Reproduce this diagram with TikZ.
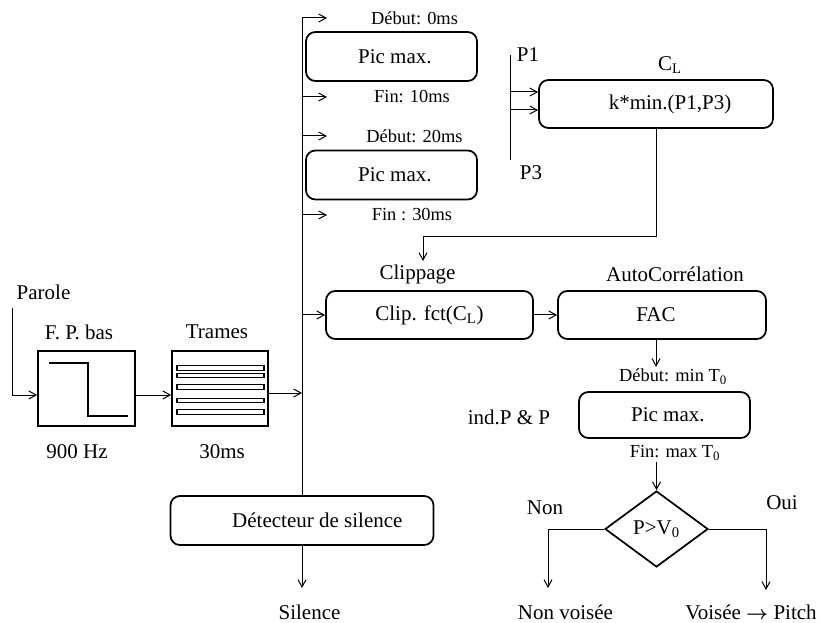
\documentclass[tikz,border=0pt]{standalone}
\usepackage{amsmath}
\usepackage{fontspec}
\setmainfont{Liberation Serif}
\usetikzlibrary{arrows.meta,shapes.geometric}

\tikzset{every picture/.style={line width=0.75pt}}
\tikzset{
  fl/.style={-{Straight Barb[length=5.5pt,width=6pt]}},
  bloc/.style={draw,rounded corners=7pt,line width=1.3pt,inner sep=0pt,
    font=\fontsize{15.75}{18}\selectfont},
  carre/.style={draw,line width=1.3pt,inner sep=0pt},
  gros/.style={inner sep=1pt,font=\fontsize{15.75}{18}\selectfont},
  petit/.style={inner sep=1pt,font=\fontsize{13.8}{16}\selectfont},
}

\begin{document}
\begin{tikzpicture}[x=0.75pt,y=0.75pt,yscale=-1,xscale=1]
\useasboundingbox (0,0) rectangle (820,623);

% Blocs
\node[carre,minimum width=72.75pt,minimum height=56.25pt] (fp) at (86.5,388.5) {};
\node[carre,minimum width=72pt,minimum height=56.25pt] (trames) at (220,388.5) {};
\node[bloc,minimum width=128.25pt,minimum height=36.75pt] (pic1) at (391.5,56.5) {\hspace*{5pt}Pic max.};
\node[bloc,minimum width=128.25pt,minimum height=36.75pt] (pic2) at (391.5,175) {\hspace*{5pt}Pic max.};
\node[bloc,minimum width=175.5pt,minimum height=36pt] (cl) at (656,104) {\hspace*{21pt}k*min.(P1,P3)};
\node[bloc,minimum width=155.25pt,minimum height=36pt] (clip) at (429.5,315) {Clip. fct(C\textsubscript{L})};
\node[bloc,minimum width=156pt,minimum height=36pt] (fac) at (662,315) {FAC\hspace*{9pt}};
\node[bloc,minimum width=128.25pt,minimum height=34.5pt] (pic3) at (664.5,415) {\hspace*{5pt}Pic max.};
\node[bloc,minimum width=197.25pt,minimum height=36.75pt] (detect) at (302,520.5) {\hspace*{23pt}Détecteur de silence};
\node[draw,diamond,line width=1.3pt,inner sep=0pt,aspect=1.355,minimum width=77.25pt,
  minimum height=57pt,font=\fontsize{15.75}{18}\selectfont] (dec) at (656.5,529) {P>V\textsubscript{0}};

% Textes
\node[gros] (parole) at (43.5,292) {Parole};
\node[gros] (fpt) at (79,332) {F. P. bas};
\node[gros] (hz) at (77,452) {900 Hz};
\node[gros] (tramt) at (217,332) {Trames};
\node[gros] (ms) at (222,452) {30ms};
\node[petit] (deb1) at (414.5,18) {Début: 0ms};
\node[petit] (fin1) at (412,97) {Fin: 10ms};
\node[petit] (deb2) at (414.5,136) {Début: 20ms};
\node[petit] (fin2) at (412,215) {Fin : 30ms};
\node[gros] (pun) at (528,55) {P1};
\node[gros] (ptrois) at (531,173) {P3};
\node[gros] (clt) at (670,65) {C\textsubscript{L}};
\node[gros] (clipt) at (417.5,274) {Clippage};
\node[gros] (fact) at (675,274) {AutoCorrélation};
\node[petit] (debT) at (673,377) {Début: min T\textsubscript{0}};
\node[gros] (ind) at (509,417) {ind.P \& P};
\node[petit] (finT) at (675,453) {Fin: max T\textsubscript{0}};
\node[gros] (non) at (545,508) {Non};
\node[gros] (oui) at (782,503) {Oui};
\node[gros] (nonv) at (565.5,612) {Non voisée};
\node[gros] (voi) at (751,612) {Voisée $\boldsymbol{\rightarrow}$ Pitch};
\node[gros] (sil) at (309.5,612) {Silence};

% Dessins internes
\draw[line width=1.3pt] (49,363) -- (88,363) -- (88,416) -- (128,416);
\foreach \y in {368,375.5,387,400.5,412}
  \draw[line width=1pt] (177,\y-2.2) rectangle (264,\y+2.2);

% Points libres
\coordinate (in) at (12,308);
\coordinate (lvl) at (0,395);
\coordinate (bus) at (302,393);
\coordinate (p1) at (510,55);
\coordinate (p3) at (510,160);
\coordinate (fbk) at (423,237);
\coordinate (nvend) at (548,588);
\coordinate (vend) at (766,590);
\coordinate (silend) at (302,588);

% Liaisons
\draw[fl] (in) |- (fp.west |- lvl);
\draw[fl] (fp.east |- lvl) -- (trames.west |- lvl);
\draw[fl] (trames.east |- bus) -- (bus);
\draw[fl] (detect.north) -- (bus |- deb1) -- ++(25,0);
\draw[fl] (bus |- fin1) -- ++(25,0);
\draw[fl] (bus |- deb2) -- ++(25,0);
\draw[fl] (bus |- fin2) -- ++(25,0);
\draw[fl] (bus |- clip) -- (clip.west);
\draw[fl] (clip.east) -- (fac.west);
\draw[fl] (p1) |- ([yshift=4.5pt]cl.west);
\draw[fl] (p3) |- ([yshift=-9pt]cl.west);
\draw[fl] (cl.south) |- (fbk) -- ++(0,24);
\draw[fl] ([xshift=-4.5pt]fac.south) -- ++(0,27);
\draw[fl] (dec.north |- finT.south) -- (dec.north);
\draw[fl] (dec.west) -| (nvend);
\draw[fl] (dec.east) -| (vend);
\draw[fl] (detect.south) -- (silend);
\end{tikzpicture}
\end{document}
